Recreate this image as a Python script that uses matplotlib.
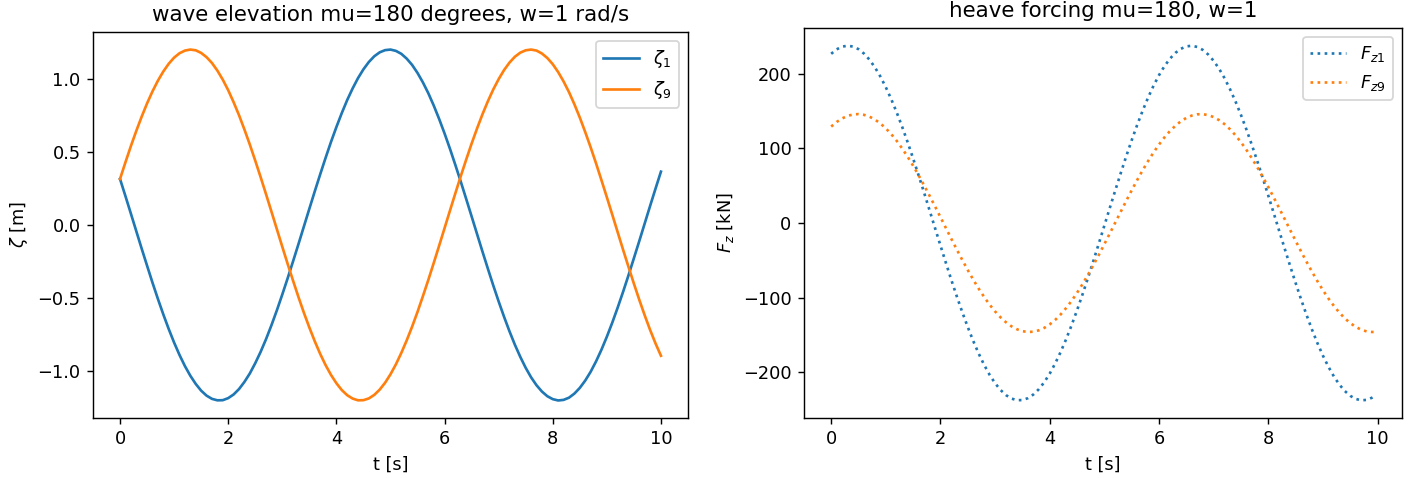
import numpy as np
import matplotlib
matplotlib.use("Agg")
import matplotlib.pyplot as plt

# sample times, 0.1 s apart; the forcing trace stops just short of 10 s
t = np.round(np.arange(0, 10.05, 0.1), 1)
t_f = np.append(t[:100], 9.95)

# wave elevation [m]
zeta1 = [0.315, 0.198, 0.079, -0.041, -0.161, -0.278, -0.394, -0.505, -0.611, -0.711,
         -0.804, -0.889, -0.965, -1.031, -1.087, -1.133, -1.167, -1.189, -1.199, -1.198,
         -1.184, -1.159, -1.122, -1.073, -1.015, -0.945, -0.867, -0.780, -0.685, -0.583,
         -0.475, -0.363, -0.247, -0.129, -0.009, 0.111, 0.230, 0.346, 0.459, 0.568,
         0.670, 0.766, 0.855, 0.934, 1.005, 1.065, 1.115, 1.154, 1.181, 1.196,
         1.200, 1.191, 1.171, 1.138, 1.095, 1.040, 0.975, 0.901, 0.817, 0.725,
         0.626, 0.521, 0.410, 0.296, 0.178, 0.059, -0.061, -0.181, -0.298, -0.413,
         -0.523, -0.628, -0.727, -0.819, -0.902, -0.977, -1.042, -1.096, -1.139, -1.171,
         -1.191, -1.200, -1.196, -1.181, -1.153, -1.114, -1.064, -1.004, -0.933, -0.853,
         -0.764, -0.668, -0.565, -0.457, -0.344, -0.227, -0.109, 0.011, 0.131, 0.249, 0.365]
zeta9 = [0.315, 0.429, 0.539, 0.643, 0.741, 0.832, 0.914, 0.987, 1.050, 1.103,
         1.145, 1.175, 1.193, 1.200, 1.195, 1.177, 1.148, 1.108, 1.056, 0.994,
         0.922, 0.840, 0.751, 0.653, 0.550, 0.440, 0.327, 0.210, 0.091, -0.029,
         -0.149, -0.267, -0.382, -0.494, -0.601, -0.701, -0.795, -0.881, -0.958, -1.025,
         -1.082, -1.129, -1.164, -1.187, -1.199, -1.198, -1.186, -1.162, -1.126, -1.079,
         -1.021, -0.953, -0.875, -0.789, -0.695, -0.594, -0.486, -0.375, -0.259, -0.141,
         -0.021, 0.099, 0.218, 0.335, 0.448, 0.557, 0.660, 0.757, 0.846, 0.927,
         0.998, 1.060, 1.111, 1.151, 1.179, 1.195, 1.200, 1.193, 1.173, 1.142,
         1.100, 1.046, 0.982, 0.909, 0.826, 0.735, 0.636, 0.532, 0.422, 0.307,
         0.190, 0.071, -0.049, -0.169, -0.286, -0.401, -0.512, -0.618, -0.718, -0.810, -0.894]

# heave forcing [kN]
fz1 = [226.8, 232.8, 236.4, 237.6, 236.5, 233.0, 227.1, 219.0, 208.7, 196.4,
       182.0, 165.9, 148.1, 128.8, 108.2, 86.5, 64.0, 40.9, 17.3, -6.5,
       -30.1, -53.5, -76.4, -98.4, -119.5, -139.4, -158.0, -174.9, -190.1, -203.4,
       -214.6, -223.7, -230.6, -235.2, -237.4, -237.2, -234.7, -229.8, -222.7, -213.3,
       -201.8, -188.2, -172.8, -155.7, -137.0, -116.9, -95.7, -73.5, -50.5, -27.1,
       -3.4, 20.3, 43.8, 66.9, 89.4, 110.9, 131.3, 150.4, 168.0, 184.0,
       198.1, 210.2, 220.2, 228.0, 233.5, 236.7, 237.6, 236.0, 232.1, 225.9,
       217.4, 206.8, 194.1, 179.4, 163.0, 144.9, 125.4, 104.6, 82.8, 60.2,
       36.9, 13.3, -10.5, -34.1, -57.4, -80.1, -102.1, -123.0, -142.7, -160.9,
       -177.6, -192.4, -205.4, -216.3, -225.0, -231.5, -235.7, -237.5, -237.0, -234.0, -231.7]
fz9 = [129.3, 135.4, 140.2, 143.6, 145.5, 146.0, 145.0, 142.6, 138.7, 133.5,
       126.9, 119.1, 110.1, 99.9, 88.8, 76.8, 64.0, 50.6, 36.7, 22.4,
       7.9, -6.7, -21.3, -35.6, -49.5, -63.0, -75.8, -87.9, -99.1, -109.3,
       -118.4, -126.4, -133.0, -138.4, -142.3, -144.9, -146.0, -145.6, -143.8, -140.5,
       -135.8, -129.8, -122.5, -113.9, -104.3, -93.5, -81.9, -69.4, -56.2, -42.5,
       -28.3, -13.9, 0.7, 15.2, 29.7, 43.8, 57.5, 70.6, 83.0, 94.6,
       105.2, 114.8, 123.2, 130.4, 136.3, 140.9, 144.0, 145.7, 145.9, 144.7,
       142.0, 137.9, 132.5, 125.7, 117.6, 108.4, 98.1, 86.8, 74.7, 61.8,
       48.3, 34.3, 19.9, 5.4, -9.2, -23.7, -38.0, -51.8, -65.2, -77.9,
       -89.9, -100.9, -110.9, -119.9, -127.6, -134.0, -139.1, -142.9, -145.2, -146.0, -145.9]

dpi = 128
fig = plt.figure(figsize=(1413 / dpi, 478 / dpi), dpi=dpi)
ax1 = fig.add_axes([0.0658, 0.1255, 0.4211, 0.8075])
ax2 = fig.add_axes([0.569, 0.1255, 0.4232, 0.8159])

ax1.plot(t, zeta1, label=r'$\zeta_1$')
ax1.plot(t, zeta9, label=r'$\zeta_9$')
ax1.set_title('wave elevation mu=180 degrees, w=1 rad/s')
ax1.set_xlabel('t [s]')
ax1.set_ylabel(r'$\zeta$ [m]')
ax1.legend(loc='upper right')

ax2.plot(t_f, fz1, ':', label=r'$F_{z1}$')
ax2.plot(t_f, fz9, ':', label=r'$F_{z9}$')
ax2.set_title('heave forcing mu=180, w=1')
ax2.set_xlabel('t [s]')
ax2.set_ylabel(r'$F_z$ [kN]')
ax2.legend(loc='upper right')

fig.savefig('out.png', dpi=dpi)
